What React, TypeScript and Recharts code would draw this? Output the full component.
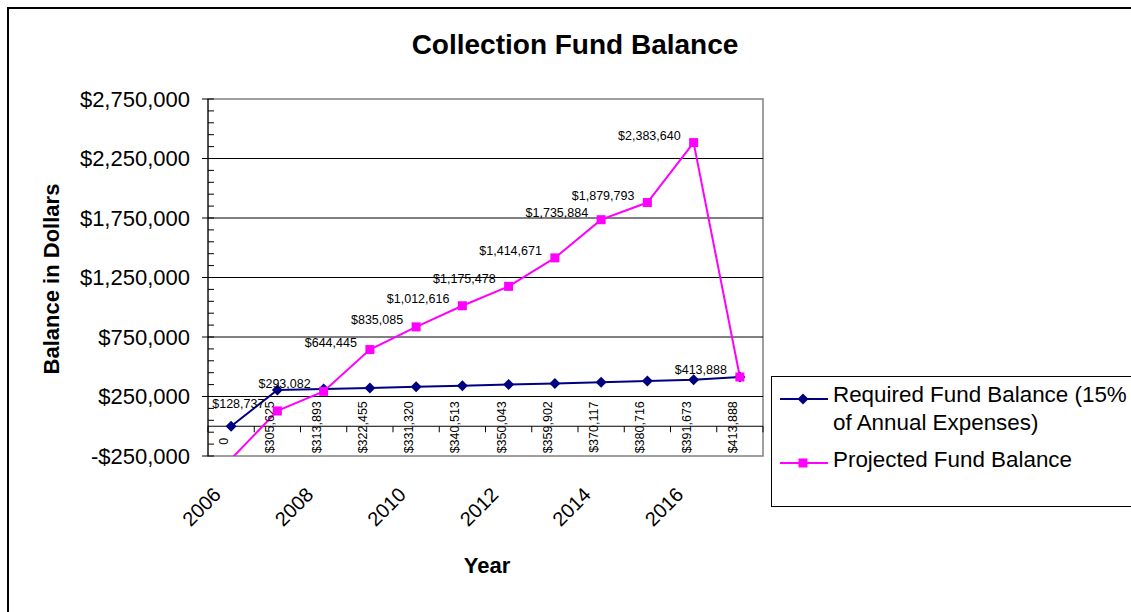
import React from 'react';
import {
  LineChart,
  Line,
  XAxis,
  YAxis,
  ReferenceLine,
  ReferenceArea,
  ReferenceDot,
  LabelList,
} from 'recharts';

// ---------------- data ----------------
const years = [2006, 2007, 2008, 2009, 2010, 2011, 2012, 2013, 2014, 2015, 2016, 2017];
const requiredBalance = [0, 305625, 313893, 322455, 331320, 340513, 350043, 359902, 370117, 380716, 391673, 413888];
const projectedBalance = [-275000, 128737, 293082, 644445, 835085, 1012616, 1175478, 1414671, 1735884, 1879793, 2383640, 413888];
const yearTicks = [2006, 2008, 2010, 2012, 2014, 2016];
const majorYTicks = [-250000, 250000, 750000, 1250000, 1750000, 2250000, 2750000];
const gridValues = [250000, 750000, 1250000, 1750000, 2250000];
const minorStep = 100000;
const seriesNames = ['Required Fund Balance (15% of Annual Expenses)', 'Projected Fund Balance'];
const seriesColors = ['#000080', '#FF00FF'];
const chartTitle = 'Collection Fund Balance';
const xTitle = 'Year';
const yTitle = 'Balance in Dollars';

const data = years.map((year, i) => ({
  year,
  required: requiredBalance[i],
  projected: projectedBalance[i],
}));

const Y_MIN = majorYTicks[0];
const Y_MAX = majorYTicks[majorYTicks.length - 1];
const allYTicks: number[] = [];
for (let v = Y_MIN; v <= Y_MAX; v += minorStep) allYTicks.push(v);
const xDomain = [years[0] - 0.5, years[years.length - 1] + 0.5];

const FONT = '"Liberation Sans", Arial, sans-serif';

const fmtMoney = (v: number) =>
  (v < 0 ? '-$' : '$') + Math.abs(v).toLocaleString('en-US');

const inRange = (v: number) => v >= Y_MIN && v <= Y_MAX;

const YTick = (p: any) => {
  const { x, y, payload } = p;
  const v = payload.value;
  if (majorYTicks.includes(v)) {
    return (
      <g>
        <line x1={x - 6} x2={x + 6} y1={y} y2={y} stroke="#000" strokeWidth={1} />
        <text x={x - 18} y={y} textAnchor="end" dominantBaseline="central" fontSize={22} fill="#000">
          {fmtMoney(v)}
        </text>
      </g>
    );
  }
  return <line x1={x} x2={x + 6} y1={y} y2={y} stroke="#000" strokeWidth={1} />;
};

const YearTick = (p: any) => {
  const { x, y, payload } = p;
  const ax = x - 9;
  const ay = y + 40;
  return (
    <text x={ax} y={ay} textAnchor="end" fontSize={20} fill="#000" transform={`rotate(-45, ${ax}, ${ay})`}>
      {payload.value}
    </text>
  );
};

const DiamondDot = (p: any) => {
  const { cx, cy, index, value } = p;
  if (cx == null || cy == null || !inRange(Number(value))) return <g key={`d${index}`} />;
  const s = 5.5;
  return (
    <polygon
      key={`d${index}`}
      points={`${cx},${cy - s} ${cx + s},${cy} ${cx},${cy + s} ${cx - s},${cy}`}
      fill={seriesColors[0]}
    />
  );
};

const SquareDot = (p: any) => {
  const { cx, cy, index, value } = p;
  if (cx == null || cy == null || !inRange(Number(value))) return <g key={`s${index}`} />;
  return <rect key={`s${index}`} x={cx - 4.5} y={cy - 4.5} width={9} height={9} fill={seriesColors[1]} />;
};

const ProjectedLabel = (p: any) => {
  const x = p.x ?? p.viewBox?.x;
  const y = p.y ?? p.viewBox?.y;
  const v = Number(p.value);
  if (x == null || y == null || !inRange(v)) return null;
  return (
    <text x={x - 13} y={y - 7} textAnchor="end" dominantBaseline="central" fontSize={12.5} fill="#000">
      {fmtMoney(v)}
    </text>
  );
};

const ZeroAxis = (p: any) => {
  const xa = Math.min(p.x1, p.x2);
  const xb = Math.max(p.x1, p.x2);
  const y = p.y1;
  const n = years.length;
  const step = (xb - xa) / n;
  const ticks = [];
  for (let k = 0; k <= n; k++) {
    const tx = xa + k * step;
    ticks.push(<line key={k} x1={tx} x2={tx} y1={y} y2={y + 6} stroke="#000" strokeWidth={1} />);
  }
  return (
    <g>
      <line x1={xa} x2={xb} y1={y} y2={y} stroke="#000" strokeWidth={1.2} />
      {ticks}
    </g>
  );
};

export default function App() {
  return (
    <div
      style={{
        position: 'fixed',
        left: 0,
        top: 0,
        width: 1131,
        height: 612,
        overflow: 'hidden',
        background: '#fff',
        fontFamily: FONT,
        color: '#000',
      }}
    >
      <div
        style={{
          position: 'absolute',
          left: 7,
          top: 7,
          width: 1300,
          height: 800,
          border: '2px solid #000',
        }}
      />
      <div style={{ position: 'absolute', left: 0, top: 0 }}>
        <LineChart width={1131} height={612} data={data} margin={{ top: 99, right: 368, bottom: 126, left: 0 }}>
          <XAxis
            dataKey="year"
            type="number"
            domain={xDomain}
            ticks={yearTicks}
            interval={0}
            axisLine={false}
            tickLine={false}
            tickSize={0}
            tickMargin={0}
            height={30}
            tick={YearTick}
          />
          <YAxis
            type="number"
            domain={[Y_MIN, Y_MAX]}
            allowDataOverflow
            ticks={allYTicks}
            interval={0}
            width={208}
            tickLine={false}
            tickSize={0}
            tickMargin={0}
            axisLine={{ stroke: '#000', strokeWidth: 1 }}
            tick={YTick}
          />
          <ReferenceArea
            x1={xDomain[0]}
            x2={xDomain[1]}
            y1={Y_MIN}
            y2={Y_MAX}
            fill="none"
            fillOpacity={0}
            stroke="#808080"
            strokeWidth={1.5}
          />
          {gridValues.map((v) => (
            <ReferenceLine key={v} y={v} stroke="#000" strokeWidth={1} />
          ))}
          <ReferenceLine y={0} shape={ZeroAxis} />
          {years.map((yr, i) => {
            const v = requiredBalance[i];
            const txt = v === 0 ? '0' : fmtMoney(v);
            const off = v === 0 ? 15 : 1;
            return (
              <ReferenceDot
                key={yr}
                x={yr}
                y={0}
                r={0}
                shape={(p: any) => (
                  <text
                    x={p.cx - 7}
                    y={p.cy + off}
                    textAnchor="middle"
                    dominantBaseline="central"
                    fontSize={12.5}
                    fill="#000"
                    transform={`rotate(-90, ${p.cx - 7}, ${p.cy + off})`}
                  >
                    {txt}
                  </text>
                )}
              />
            );
          })}
          <Line
            type="linear"
            dataKey="required"
            name={seriesNames[0]}
            stroke={seriesColors[0]}
            strokeWidth={2}
            dot={DiamondDot}
            activeDot={false}
            isAnimationActive={false}
          />
          <Line
            type="linear"
            dataKey="projected"
            name={seriesNames[1]}
            stroke={seriesColors[1]}
            strokeWidth={2}
            dot={SquareDot}
            activeDot={false}
            isAnimationActive={false}
          >
            <LabelList dataKey="projected" content={ProjectedLabel} />
          </Line>
        </LineChart>
      </div>

      {/* title */}
      <div
        style={{
          position: 'absolute',
          left: 0,
          top: 29,
          width: 1150,
          textAlign: 'center',
          fontSize: 28,
          fontWeight: 'bold',
          lineHeight: '32px',
        }}
      >
        {chartTitle}
      </div>

      {/* y axis title */}
      <div
        style={{
          position: 'absolute',
          left: 52,
          top: 279,
          transform: 'translate(-50%, -50%) rotate(-90deg)',
          whiteSpace: 'nowrap',
          fontSize: 22,
          fontWeight: 'bold',
          lineHeight: '24px',
        }}
      >
        {yTitle}
      </div>

      {/* x axis title */}
      <div
        style={{
          position: 'absolute',
          left: 387,
          top: 554,
          width: 200,
          textAlign: 'center',
          fontSize: 22,
          fontWeight: 'bold',
          lineHeight: '24px',
        }}
      >
        {xTitle}
      </div>

      {/* legend */}
      <div
        style={{
          position: 'absolute',
          left: 771,
          top: 376,
          width: 420,
          height: 129,
          border: '1.5px solid #000',
          background: '#fff',
        }}
      />
      <svg style={{ position: 'absolute', left: 780, top: 389 }} width={48} height={20}>
        <line x1={0} x2={48} y1={10} y2={10} stroke={seriesColors[0]} strokeWidth={2} />
        <polygon points="23,4.5 28.5,10 23,15.5 17.5,10" fill={seriesColors[0]} />
      </svg>
      <div
        style={{
          position: 'absolute',
          left: 833,
          top: 381,
          width: 300,
          fontSize: 22.4,
          lineHeight: '28px',
        }}
      >
        {seriesNames[0]}
      </div>
      <svg style={{ position: 'absolute', left: 780, top: 453 }} width={48} height={20}>
        <line x1={0} x2={48} y1={10} y2={10} stroke={seriesColors[1]} strokeWidth={2} />
        <rect x={18.5} y={5.5} width={9} height={9} fill={seriesColors[1]} />
      </svg>
      <div
        style={{
          position: 'absolute',
          left: 833,
          top: 446,
          width: 300,
          fontSize: 22.4,
          lineHeight: '28px',
          whiteSpace: 'nowrap',
        }}
      >
        {seriesNames[1]}
      </div>
    </div>
  );
}
